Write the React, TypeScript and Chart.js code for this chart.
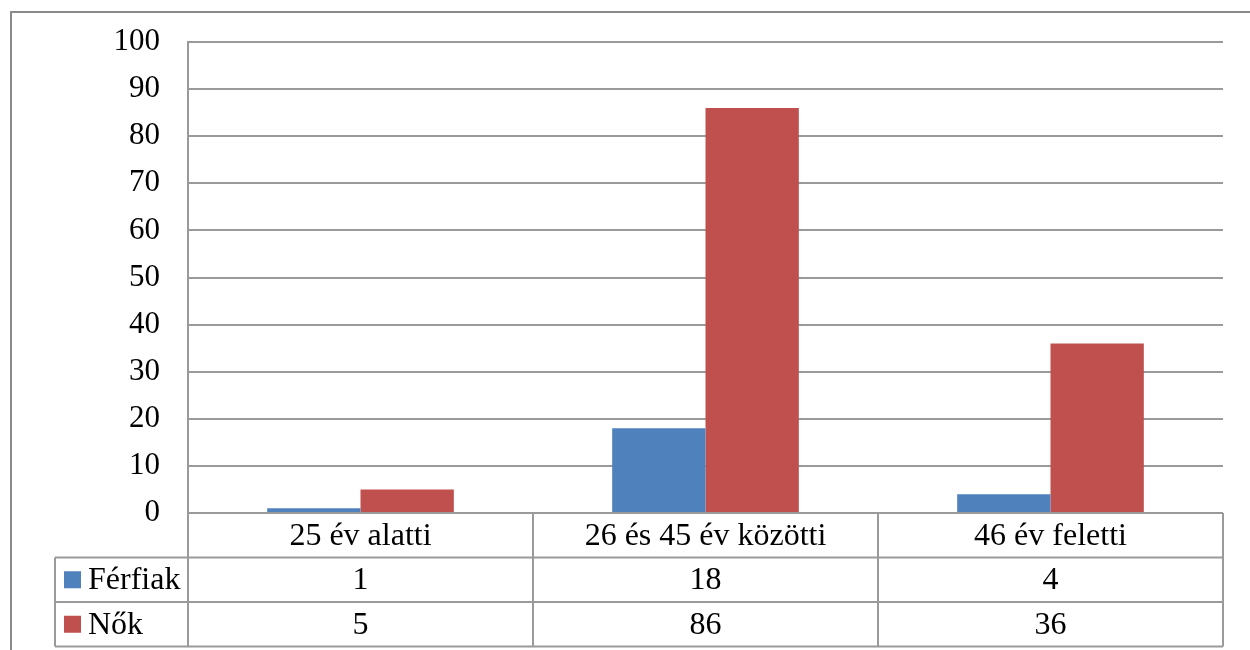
import React, { useEffect, useRef } from "react";
import { Chart, registerables } from "chart.js";

Chart.register(...registerables);

const categories = ["25 év alatti", "26 és 45 év közötti", "46 év feletti"];
const seriesNames = ["Férfiak", "Nők"];
const ferfiak = [1, 18, 4];
const nok = [5, 86, 36];
const seriesColors = ["#4F81BD", "#C0504D"];
const yTicks = [0, 10, 20, 30, 40, 50, 60, 70, 80, 90, 100];

const FONT = "'Liberation Serif', 'Times New Roman', serif";
const FONT_SIZE = 31;
const TABLE_FONT_SIZE = 32;
const LINE = "#9a9a9a";

const tablePlugin = {
  id: "dataTable",
  afterDraw(chart: any) {
    const ctx = chart.ctx;
    const area = chart.chartArea;
    const xs = chart.scales.x;
    const n = categories.length;
    const catW = (area.right - area.left) / n;
    const rowH = 44.5;
    const top = area.bottom;
    const legendLeft = 55;
    const rowsTop = [top, top + rowH, top + 2 * rowH];
    const bottom = top + 3 * rowH;
    const values = [ferfiak, nok];

    ctx.save();
    ctx.strokeStyle = LINE;
    ctx.lineWidth = 2;
    const line = (x1: number, y1: number, x2: number, y2: number) => {
      ctx.beginPath();
      ctx.moveTo(x1, y1);
      ctx.lineTo(x2, y2);
      ctx.stroke();
    };
    // horizontal lines
    line(legendLeft, rowsTop[1], area.right, rowsTop[1]);
    line(legendLeft, rowsTop[2], area.right, rowsTop[2]);
    line(legendLeft, bottom, area.right, bottom);
    // vertical lines
    line(legendLeft, rowsTop[1], legendLeft, bottom);
    for (let i = 0; i <= n; i++) {
      const x = area.left + catW * i;
      line(x, top, x, bottom);
    }

    // outer chart border
    ctx.strokeStyle = "#8a8a8a";
    ctx.lineWidth = 2;
    line(11, 12, 11, chart.height);
    line(10, 12, chart.width, 12);

    ctx.fillStyle = "#000";
    ctx.font = `${TABLE_FONT_SIZE}px ${FONT}`;
    ctx.textBaseline = "middle";
    ctx.textAlign = "center";
    for (let i = 0; i < n; i++) {
      const cx = xs.getPixelForValue(i);
      ctx.fillText(categories[i], cx, rowsTop[0] + rowH / 2 + 1);
      for (let s = 0; s < values.length; s++) {
        ctx.fillText(String(values[s][i]), cx, rowsTop[s + 1] + rowH / 2 + 1);
      }
    }
    ctx.textAlign = "left";
    for (let s = 0; s < seriesNames.length; s++) {
      const cy = rowsTop[s + 1] + rowH / 2;
      ctx.fillStyle = seriesColors[s];
      ctx.fillRect(64, cy - 8.5, 17, 17);
      ctx.fillStyle = "#000";
      ctx.fillText(seriesNames[s], 88, cy + 1);
    }
    ctx.restore();
  },
};

export default function App() {
  const ref = useRef<HTMLCanvasElement | null>(null);
  useEffect(() => {
    if (!ref.current) return;
    const chart = new Chart(ref.current, {
      type: "bar",
      data: {
        labels: categories,
        datasets: [
          { label: seriesNames[0], data: ferfiak, backgroundColor: seriesColors[0] },
          { label: seriesNames[1], data: nok, backgroundColor: seriesColors[1] },
        ],
      },
      options: {
        animation: false,
        responsive: false,
        devicePixelRatio: 1,
        layout: { padding: { left: 0, top: 42, right: 27, bottom: 137 } },
        plugins: { legend: { display: false }, tooltip: { enabled: false } },
        datasets: { bar: { categoryPercentage: 0.541, barPercentage: 1 } },
        scales: {
          x: { display: false },
          y: {
            min: 0,
            max: 100,
            afterFit: (scale: any) => {
              scale.width = 188;
            },
            afterBuildTicks: (scale: any) => {
              scale.ticks = yTicks.map((v) => ({ value: v }));
            },
            border: { display: true, color: LINE, width: 2 },
            grid: {
              color: LINE,
              lineWidth: 2,
              drawTicks: true,
              tickLength: 28,
              tickColor: "rgba(0,0,0,0)",
            },
            ticks: {
              padding: 0,
              color: "#000",
              font: { family: FONT, size: FONT_SIZE },
            },
          },
        },
      },
      plugins: [tablePlugin],
    });
    return () => chart.destroy();
  }, []);
  return (
    <div style={{ position: "absolute", left: 0, top: 0, width: 1250, height: 650, background: "#fff" }}>
      <canvas ref={ref} width={1250} height={650} />
    </div>
  );
}
